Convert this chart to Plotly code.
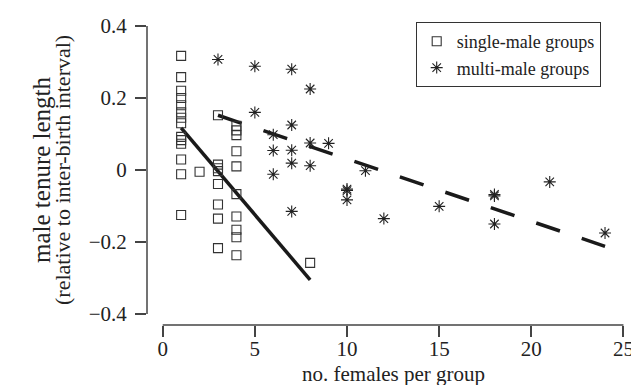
import plotly.graph_objects as go

# ---- data ----
single_x = [1]*14 + [2] + [3]*8 + [4]*10 + [8]
single_y = [0.317, 0.258, 0.22, 0.2, 0.18, 0.16, 0.145, 0.13, 0.092, 0.083, 0.073, 0.029, -0.012, -0.125,
            -0.005,
            0.152, 0.015, 0.005, -0.003, -0.039, -0.096, -0.135, -0.217,
            0.123, 0.11, 0.097, 0.052, 0.010, -0.067, -0.129, -0.166, -0.187, -0.237,
            -0.258]

multi_x = [3, 5, 5, 6, 6, 6, 7, 7, 7, 7, 7, 8, 8, 8, 9, 10, 10, 10, 11, 12, 15, 18, 18, 18, 21, 24]
multi_y = [0.307, 0.288, 0.16, 0.098, 0.054, -0.012, 0.28, 0.125, 0.055, 0.019, -0.115,
           0.225, 0.075, 0.012, 0.074, -0.053, -0.057, -0.083, -0.002, -0.135, -0.101,
           -0.068, -0.072, -0.15, -0.033, -0.175]

# fitted lines (intercept, slope)
single_fit = [0.1773, -0.0603]
multi_fit = [0.204, -0.01733]

x_ticks = [0, 5, 10, 15, 20, 25]
y_ticks = [-0.4, -0.2, 0, 0.2, 0.4]
y_tick_text = ["\u22120.4", "\u22120.2", "0", "0.2", "0.4"]

FONT = "Liberation Serif"
AX = "#444444"
INK = "#222222"

def fit_line(xs, fit):
    xe = [min(xs), max(xs)]
    return xe, [fit[0] + fit[1]*v for v in xe]

fig = go.Figure()

sx, sy = fit_line(single_x, single_fit)
fig.add_trace(go.Scatter(x=sx, y=sy, mode="lines", showlegend=False,
                         line=dict(color="#1a1a1a", width=3.5), hoverinfo="skip"))
mx, my = fit_line(multi_x, multi_fit)
fig.add_trace(go.Scatter(x=mx, y=my, mode="lines", showlegend=False,
                         line=dict(color="#1a1a1a", width=3.5, dash="25px,23px"), hoverinfo="skip"))

fig.add_trace(go.Scatter(x=single_x, y=single_y, mode="markers", name="single-male groups",
                         marker=dict(symbol="square-open", size=9, color="#333333",
                                     line=dict(width=1.1, color="#333333"))))
fig.add_trace(go.Scatter(x=multi_x, y=multi_y, mode="markers", name="multi-male groups",
                         marker=dict(symbol="asterisk-open", size=10, color=INK,
                                     line=dict(width=1.1, color=INK))))

# detached axis lines (R style)
fig.add_shape(type="line", xref="x", yref="paper", x0=x_ticks[0], x1=x_ticks[-1], y0=0, y1=0,
              line=dict(color=AX, width=1.5))
fig.add_shape(type="line", xref="paper", yref="y", x0=0, x1=0, y0=y_ticks[0], y1=y_ticks[-1],
              line=dict(color=AX, width=1.5))

# plot area: x pixels 139..633, y pixels 10..317
L, R, T, B = 139, 633, 10, 317
W, H = 639, 385
x_range = [(L - 154.7) / 18.43, (R - 154.7) / 18.43]
y_range = [(162 - B) / 360, (162 - T) / 360]

def px_x(p):
    return (p - L) / (R - L)

def px_y(p):
    return (B - p) / (B - T)

fig.update_layout(
    width=W, height=H,
    margin=dict(l=L, r=W - R, t=T, b=H - B),
    paper_bgcolor="white", plot_bgcolor="white",
    font=dict(family=FONT, color=INK),
    xaxis=dict(range=x_range, showgrid=False, zeroline=False, showline=False,
               tickmode="array", tickvals=x_ticks, ticks="outside", ticklen=11,
               tickwidth=1.5, tickcolor=AX, tickfont=dict(family=FONT, size=21, color=INK),
               ticklabelstandoff=-6),
    yaxis=dict(range=y_range, showgrid=False, zeroline=False, showline=False,
               tickmode="array", tickvals=y_ticks, ticktext=y_tick_text, ticks="outside",
               ticklen=11, tickwidth=1.5, tickcolor=AX,
               tickfont=dict(family=FONT, size=21, color=INK), ticklabelstandoff=4),
    legend=dict(x=px_x(592.7), y=px_y(14), xanchor="right", yanchor="top",
                bordercolor="#333333", borderwidth=1, bgcolor="white",
                font=dict(family=FONT, size=18, color=INK)),
    annotations=[
        dict(text="no. females per group", xref="paper", yref="paper",
             x=px_x(385), y=px_y(366), xanchor="center", yanchor="middle",
             showarrow=False, font=dict(family=FONT, size=21, color=INK)),
        dict(text="male tenure length", xref="paper", yref="paper",
             x=px_x(33), y=px_y(162), xanchor="center", yanchor="middle", textangle=-90,
             showarrow=False, font=dict(family=FONT, size=25, color=INK)),
        dict(text="(relative to inter-birth interval)", xref="paper", yref="paper",
             x=px_x(54), y=px_y(162), xanchor="center", yanchor="middle", textangle=-90,
             showarrow=False, font=dict(family=FONT, size=22, color=INK)),
    ],
)

fig.write_html("out.html")
